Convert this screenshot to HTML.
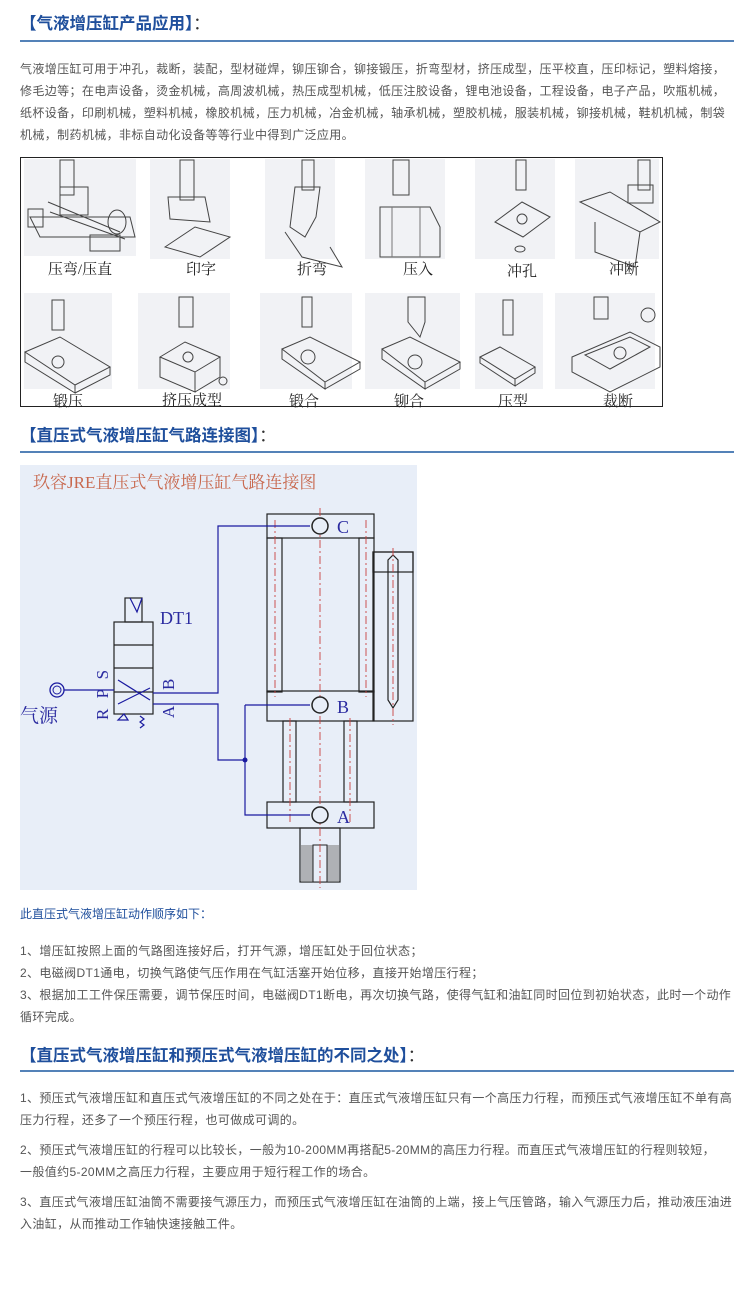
<!DOCTYPE html>
<html><head><meta charset="utf-8"><style>
body{margin:0;width:750px;height:1294px;background:#fff;position:relative;overflow:hidden;font-family:"Liberation Sans","Noto Sans CJK SC",sans-serif;}
.a{position:absolute;white-space:nowrap;}
.h{font-size:16.5px;font-weight:bold;color:#1f4f9c;left:20px;}
.h span{font-weight:normal;color:#333;}
.ln{position:absolute;left:20px;width:714px;height:2px;background:#5482b8;}
.t{font-size:12px;color:#555;left:20px;letter-spacing:0.37px;}
</style></head><body>
<div class="a h" style="top:10px">【气液增压缸产品应用】<span>：</span></div>
<div class="ln" style="top:40px"></div>
<div class="a t" style="top:58px;line-height:22px">气液增压缸可用于冲孔，裁断，装配，型材碰焊，铆压铆合，铆接锻压，折弯型材，挤压成型，压平校直，压印标记，塑料熔接，<br>修毛边等；在电声设备，烫金机械，高周波机械，热压成型机械，低压注胶设备，锂电池设备，工程设备，电子产品，吹瓶机械，<br>纸杯设备，印刷机械，塑料机械，橡胶机械，压力机械，冶金机械，轴承机械，塑胶机械，服装机械，铆接机械，鞋机机械，制袋<br>机械，制药机械，非标自动化设备等等行业中得到广泛应用。</div>

<svg class="a" style="left:20px;top:157px" width="644" height="251" viewBox="0 0 644 251">
<rect x="0.5" y="0.5" width="642" height="249" fill="#fff" stroke="#222"/>
<g fill="#f1f2f5">
<rect x="4" y="2" width="112" height="97"/><rect x="130" y="2" width="80" height="100"/><rect x="245" y="2" width="70" height="100"/><rect x="345" y="2" width="80" height="100"/><rect x="455" y="2" width="80" height="100"/><rect x="555" y="2" width="84" height="100"/>
<rect x="4" y="136" width="88" height="96"/><rect x="118" y="136" width="92" height="96"/><rect x="240" y="136" width="92" height="96"/><rect x="345" y="136" width="95" height="96"/><rect x="455" y="136" width="68" height="96"/><rect x="535" y="136" width="100" height="96"/>
</g>
<g fill="none" stroke="#444" stroke-width="1">
<rect x="40" y="3" width="14" height="35"/><path d="M10 60 L110 60 L115 80 L20 80Z M28 45 L100 75 M30 55 L105 82"/><rect x="8" y="52" width="15" height="18"/><rect x="70" y="78" width="30" height="16"/><ellipse cx="97" cy="65" rx="9" ry="12"/><rect x="40" y="30" width="28" height="28"/>
<rect x="160" y="3" width="14" height="40"/><path d="M148 40 L185 40 L190 65 L150 62Z"/><path d="M145 90 L175 70 L210 80 L180 100Z"/>
<rect x="282" y="3" width="12" height="30"/><path d="M275 30 L300 30 L296 60 L285 80 L270 70 Z M265 75 L282 100 L322 110 L310 90"/>
<rect x="373" y="3" width="16" height="35"/><path d="M360 50 L410 50 L420 70 L420 100 L360 100Z"/><path d="M372 50 L372 100 M400 50 L400 100" stroke="#777"/>
<rect x="496" y="3" width="10" height="30"/><path d="M475 65 L502 45 L530 60 L503 80Z"/><circle cx="502" cy="62" r="5"/><ellipse cx="500" cy="92" rx="5" ry="3"/>
<rect x="618" y="3" width="12" height="30"/><path d="M560 45 L590 35 L640 65 L620 75Z M575 65 L575 95 L615 110 L620 75"/><rect x="608" y="28" width="25" height="18"/>
<rect x="32" y="143" width="12" height="30"/><path d="M5 195 L40 180 L90 210 L55 228Z M5 195 L5 205 L55 236 L55 228 M90 210 L90 218 L55 236"/><circle cx="38" cy="205" r="6"/>
<rect x="159" y="140" width="14" height="30"/><path d="M140 200 L165 185 L200 200 L175 215Z M140 200 L140 220 L175 235 L175 215 M200 200 L200 220 L175 235"/><circle cx="168" cy="200" r="5"/><circle cx="203" cy="224" r="4"/>
<rect x="282" y="140" width="10" height="30"/><path d="M262 192 L290 180 L340 205 L305 225Z M262 192 L262 202 L305 232 L305 225 M340 205 L340 212 L305 232"/><circle cx="288" cy="200" r="7"/>
<path d="M388 140 L388 165 L400 180 L405 165 L405 140Z"/><path d="M362 192 L390 180 L440 205 L405 225Z M362 192 L362 202 L405 232 L405 225 M440 205 L440 212 L405 232"/><circle cx="395" cy="205" r="7"/>
<rect x="483" y="143" width="10" height="35"/><path d="M460 200 L480 190 L515 210 L495 222Z M460 200 L460 206 L495 229 L495 222 M515 210 L515 216 L495 229"/>
<rect x="574" y="140" width="14" height="22"/><circle cx="628" cy="158" r="7"/><path d="M552 200 L610 175 L640 190 L640 210 L590 235 L552 215Z M565 198 L610 180 L630 190 L590 212Z"/><circle cx="600" cy="196" r="6"/>
</g>
<g font-family="'Liberation Serif','Noto Serif CJK SC',serif" font-size="15" fill="#222" text-anchor="middle">
<text x="60" y="117">压弯/压直</text><text x="181" y="117">印字</text><text x="292" y="117">折弯</text><text x="398" y="117">压入</text><text x="502" y="119">冲孔</text><text x="604" y="117">冲断</text>
<text x="48" y="249">锻压</text><text x="172" y="248">挤压成型</text><text x="284" y="249">锻合</text><text x="389" y="249">铆合</text><text x="493" y="249">压型</text><text x="598" y="249">裁断</text>
</g>
</svg>

<div class="a h" style="top:422px">【直压式气液增压缸气路连接图】<span>：</span></div>
<div class="ln" style="top:451px"></div>

<svg class="a" style="left:20px;top:465px" width="397" height="425" viewBox="20 465 397 425">
<rect x="20" y="465" width="397" height="425" fill="#e8eef8"/>
<text x="33" y="488" font-family="'Liberation Serif','Noto Serif CJK SC',serif" font-size="17" fill="#c8684e">玖容JRE直压式气液增压缸气路连接图</text>
<g fill="none" stroke="#222" stroke-width="1.2">
<rect x="267" y="514" width="107" height="24"/>
<rect x="267" y="538" width="15" height="154"/><rect x="359" y="538" width="15" height="154"/>
<rect x="267" y="691" width="107" height="30"/>
<rect x="283" y="721" width="13" height="81"/><rect x="344" y="721" width="13" height="81"/>
<rect x="267" y="802" width="107" height="26"/>
<rect x="300" y="828" width="40" height="54"/>
<rect x="373" y="552" width="40" height="169"/><rect x="373" y="552" width="40" height="20"/>
<path d="M388 560 L393 555 L398 560 L398 700 L393 708 L388 700Z"/>
<rect x="114" y="622" width="39" height="92"/><path d="M114 645 H153 M114 668 H153 M114 692 H153"/>
<rect x="125" y="598" width="17" height="24"/>
</g>
<rect x="301" y="845" width="38" height="37" fill="#888" opacity=".6"/><rect x="313" y="845" width="14" height="37" fill="#e8eef8" stroke="#222"/>
<g fill="none" stroke="#c84040" stroke-width="0.9" stroke-dasharray="8 3 2 3">
<path d="M320 508 V888 M275 520 V697 M366 520 V697 M290 718 V825 M350 718 V825 M393 548 V725"/>
</g>
<g fill="none" stroke="#1a1aa0" stroke-width="1.2">
<path d="M64 690 H114 M153 693 H218 V526 H310 M153 704 H218 V760 H245 M245 705 H310 M245 705 V815 H310"/>
<path d="M118 680 L150 700 M118 704 L150 688 M130 598 L137 612 L142 598 M118 720 L124 714 L128 720Z M140 716 l4 3 -4 3 4 3 -4 3"/>
</g>
<circle cx="245" cy="760" r="2.5" fill="#1a1aa0"/>
<circle cx="57" cy="690" r="7" fill="none" stroke="#1a1aa0" stroke-width="1.3"/><circle cx="57" cy="690" r="4" fill="none" stroke="#1a1aa0"/>
<g fill="#e8eef8" stroke="#222" stroke-width="1.5"><circle cx="320" cy="526" r="8"/><circle cx="320" cy="705" r="8"/><circle cx="320" cy="815" r="8"/></g>
<g font-family="'Liberation Serif','Noto Serif CJK SC',serif" fill="#2a2aa0">
<text x="20" y="722" font-size="19">气源</text>
<text x="160" y="624" font-size="18">DT1</text>
<text x="337" y="533" font-size="18">C</text><text x="337" y="713" font-size="18">B</text><text x="337" y="823" font-size="18">A</text>
<text transform="translate(108,720) rotate(-90)" font-size="17" letter-spacing="3">R P S</text>
<text transform="translate(174,690) rotate(-90)" font-size="17">B</text>
<text transform="translate(174,718) rotate(-90)" font-size="17">A</text>
</g>
</svg>

<div class="a" style="left:20px;top:905px;font-size:12px;color:#1f4f9c">此直压式气液增压缸动作顺序如下：</div>
<div class="a t" style="top:940px;line-height:22px">1、增压缸按照上面的气路图连接好后，打开气源，增压缸处于回位状态；<br>2、电磁阀DT1通电，切换气路使气压作用在气缸活塞开始位移，直接开始增压行程；<br>3、根据加工工件保压需要，调节保压时间，电磁阀DT1断电，再次切换气路，使得气缸和油缸同时回位到初始状态，此时一个动作<br>循环完成。</div>

<div class="a h" style="top:1042px">【直压式气液增压缸和预压式气液增压缸的不同之处】<span>：</span></div>
<div class="ln" style="top:1070px"></div>
<div class="a t" style="top:1087px;line-height:22px">1、预压式气液增压缸和直压式气液增压缸的不同之处在于：直压式气液增压缸只有一个高压力行程，而预压式气液增压缸不单有高<br>压力行程，还多了一个预压行程，也可做成可调的。</div>
<div class="a t" style="top:1139px;line-height:22px">2、预压式气液增压缸的行程可以比较长，一般为10-200MM再搭配5-20MM的高压力行程。而直压式气液增压缸的行程则较短，<br>一般值约5-20MM之高压力行程，主要应用于短行程工作的场合。</div>
<div class="a t" style="top:1191px;line-height:22px">3、直压式气液增压缸油筒不需要接气源压力，而预压式气液增压缸在油筒的上端，接上气压管路，输入气源压力后，推动液压油进<br>入油缸，从而推动工作轴快速接触工件。</div>
</body></html>
